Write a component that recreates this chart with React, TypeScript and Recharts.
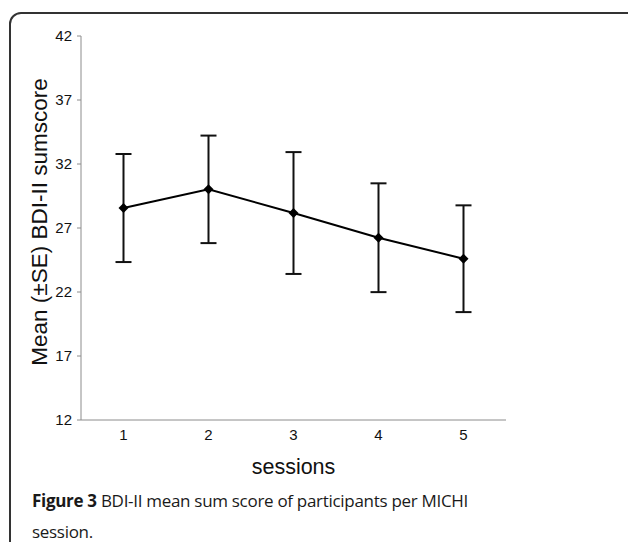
import React from 'react';
import { LineChart, Line, XAxis, YAxis, ErrorBar } from 'recharts';

// values
const SESSIONS = [1, 2, 3, 4, 5];
const MEANS = [28.56, 30.02, 28.17, 26.24, 24.6];
const SE = [4.22, 4.2, 4.76, 4.25, 4.17];
const Y_TICKS = [12, 17, 22, 27, 32, 37, 42];
const X_BOUNDS = [0.5, 1.5, 2.5, 3.5, 4.5, 5.5];

const data = SESSIONS.map((s, i) => ({ session: s, mean: MEANS[i], se: SE[i] }));

const AXIS_GRAY = '#8c8c8c';
const TEXT = '#111';
const ARIAL = '"Liberation Sans", Arial, sans-serif';

const Diamond = (props: any) => {
  const { cx, cy } = props;
  if (cx == null || cy == null) return null;
  const r = 5;
  return (
    <polygon
      points={`${cx},${cy - r} ${cx + r},${cy} ${cx},${cy + r} ${cx - r},${cy}`}
      fill="#000"
    />
  );
};

// viewBox here is the y axis box, so its right edge is the axis line
const YLabel = ({ viewBox }: any) => {
  if (!viewBox) return null;
  const x = viewBox.x + viewBox.width - 42;
  const y = viewBox.y + viewBox.height / 2 - 6;
  return (
    <text
      x={x}
      y={y}
      transform={`rotate(-90, ${x}, ${y})`}
      textAnchor="middle"
      dominantBaseline="central"
      fill={TEXT}
      fontSize={22.5}
      fontFamily={ARIAL}
    >
      Mean (±SE) BDI-II sumscore
    </text>
  );
};

export default function App() {
  return (
    <div
      style={{
        position: 'fixed',
        left: 0,
        top: 0,
        width: 628,
        height: 542,
        background: '#fff',
        overflow: 'hidden',
      }}
    >
      {/* card frame */}
      <div
        style={{
          position: 'absolute',
          left: 9,
          top: 12,
          width: 640,
          height: 560,
          border: '2px solid #333',
          borderRadius: 12,
          boxSizing: 'border-box',
        }}
      />
      <div style={{ position: 'absolute', left: 0, top: 0 }}>
        <LineChart
          width={628}
          height={542}
          data={data}
          margin={{ top: 36, right: 122, bottom: 0, left: 21 }}
        >
          <XAxis
            xAxisId="bounds"
            type="number"
            dataKey="session"
            domain={[0.5, 5.5]}
            ticks={X_BOUNDS}
            tick={false}
            height={1}
            stroke={AXIS_GRAY}
            tickSize={4}
          />
          <XAxis
            xAxisId="labels"
            type="number"
            dataKey="session"
            domain={[0.5, 5.5]}
            ticks={SESSIONS}
            axisLine={false}
            tickLine={false}
            height={121}
            tickSize={4}
            tickMargin={4}
            tick={{ fill: TEXT, fontSize: 15, fontFamily: ARIAL }}
            label={{
              value: 'sessions',
              position: 'insideTop',
              offset: 38,
              style: { fill: TEXT, fontSize: 21.5, fontFamily: ARIAL },
            }}
          />
          <YAxis
            type="number"
            domain={[12, 42]}
            ticks={Y_TICKS}
            width={60}
            stroke={AXIS_GRAY}
            tickSize={4}
            tickMargin={5}
            tick={{ fill: TEXT, fontSize: 15, fontFamily: ARIAL }}
            label={<YLabel />}
          />
          <Line
            xAxisId="labels"
            dataKey="mean"
            stroke="#000"
            strokeWidth={2}
            dot={<Diamond />}
            activeDot={false}
            isAnimationActive={false}
          >
            <ErrorBar dataKey="se" direction="y" width={8} stroke="#111" strokeWidth={2} />
          </Line>
        </LineChart>
      </div>
      <div
        style={{
          position: 'absolute',
          left: 32,
          top: 485,
          fontFamily: '"Open Sans", "Noto Sans", sans-serif',
          fontSize: 17,
          letterSpacing: -0.3,
          lineHeight: '31px',
          color: '#1a1a1a',
          whiteSpace: 'nowrap',
        }}
      >
        <b>Figure 3</b> BDI-II mean sum score of participants per MICHI
        <br />
        session.
      </div>
    </div>
  );
}
